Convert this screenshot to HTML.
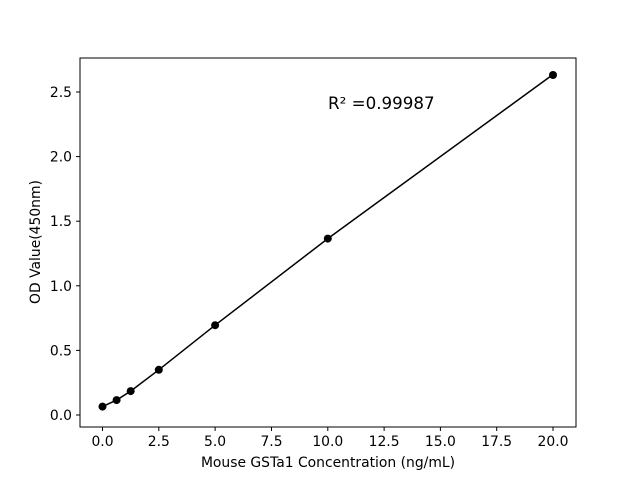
<!DOCTYPE html>
<html><head><meta charset="utf-8"><style>body{margin:0;background:#fff}svg{display:block}text{font-family:"DejaVu Sans","Liberation Sans",sans-serif;fill:#000}</style></head>
<body>
<svg width="640" height="480" xmlns="http://www.w3.org/2000/svg">
<rect width="640" height="480" fill="#fff"/>
<rect x="80" y="58" width="496" height="369" fill="none" stroke="#000" stroke-width="1"/>
<g stroke="#000" stroke-width="1">
<line x1="102.5" y1="427" x2="102.5" y2="431"/><line x1="158.8" y1="427" x2="158.8" y2="431"/><line x1="215.1" y1="427" x2="215.1" y2="431"/><line x1="271.5" y1="427" x2="271.5" y2="431"/><line x1="327.8" y1="427" x2="327.8" y2="431"/><line x1="384.1" y1="427" x2="384.1" y2="431"/><line x1="440.4" y1="427" x2="440.4" y2="431"/><line x1="496.7" y1="427" x2="496.7" y2="431"/><line x1="553" y1="427" x2="553" y2="431"/>
<line x1="76" y1="415" x2="80" y2="415"/><line x1="76" y1="350.4" x2="80" y2="350.4"/><line x1="76" y1="285.8" x2="80" y2="285.8"/><line x1="76" y1="221.2" x2="80" y2="221.2"/><line x1="76" y1="156.6" x2="80" y2="156.6"/><line x1="76" y1="92" x2="80" y2="92"/>
</g>
<g font-size="13.9" text-anchor="middle">
<text x="102.5" y="446">0.0</text><text x="158.8" y="446">2.5</text><text x="215.1" y="446">5.0</text><text x="271.5" y="446">7.5</text><text x="327.8" y="446">10.0</text><text x="384.1" y="446">12.5</text><text x="440.4" y="446">15.0</text><text x="496.7" y="446">17.5</text><text x="553" y="446">20.0</text>
</g>
<g font-size="13.9" text-anchor="end">
<text x="72" y="420">0.0</text><text x="72" y="355.4">0.5</text><text x="72" y="290.8">1.0</text><text x="72" y="226.2">1.5</text><text x="72" y="161.6">2.0</text><text x="72" y="97">2.5</text>
</g>
<text x="328" y="467" font-size="13.9" text-anchor="middle">Mouse GSTa1 Concentration (ng/mL)</text>
<text transform="translate(40,242) rotate(-90)" font-size="13.9" text-anchor="middle">OD Value(450nm)</text>
<text x="328" y="109" font-size="16.7">R² =0.99987</text>
<polyline fill="none" stroke="#000" stroke-width="1.5" points="102.5,406.6 116.6,400.1 130.7,391.1 158.8,369.8 215.1,325.2 327.8,238.6 553,74.5"/>
<g fill="#000">
<circle cx="102.5" cy="406.6" r="4"/><circle cx="116.6" cy="400.1" r="4"/><circle cx="130.7" cy="391.1" r="4"/><circle cx="158.8" cy="369.8" r="4"/><circle cx="215.1" cy="325.2" r="4"/><circle cx="327.8" cy="238.6" r="4"/><circle cx="553" cy="75" r="4"/>
</g>
</svg>
</body></html>
